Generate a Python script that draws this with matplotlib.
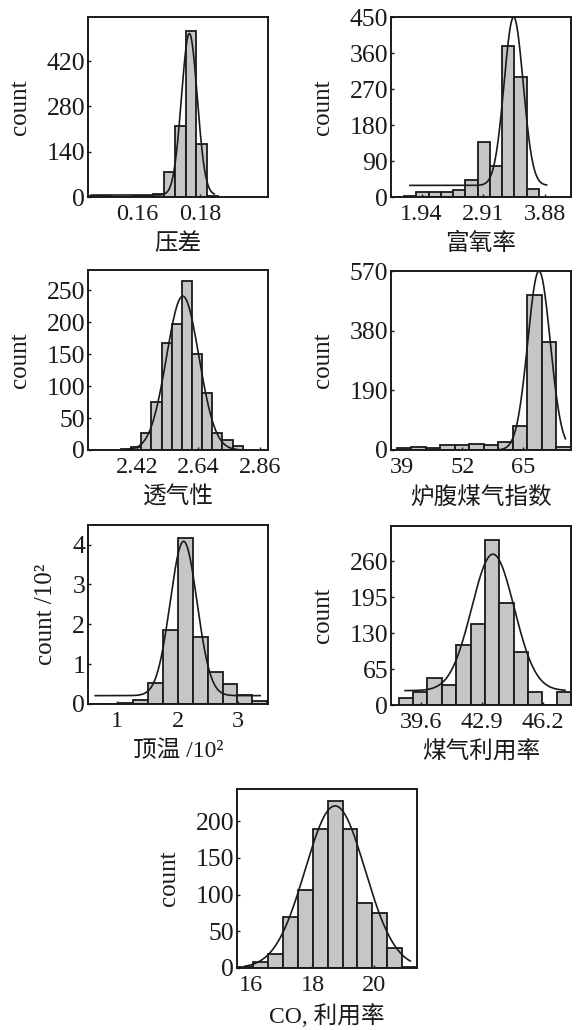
import numpy as np
import matplotlib
matplotlib.use("Agg")
import matplotlib.pyplot as plt

plt.rcParams['font.family'] = ['Liberation Serif', 'Noto Sans CJK SC']

# 压差
p1_start, p1_width = 0.1448, 0.0034
p1_counts = [4, 3, 0, 1, 3, 4, 9, 77, 219, 514, 165, 3]
p1_fit = (0.1455, 0.1845, 0.1766, 0.0025, 505, 6)
# 富氧率
p2_start, p2_width = 1.475, 0.1925
p2_counts = [0, 3, 12, 12, 12, 17, 42, 137, 78, 378, 300, 21]
p2_fit = (1.757, 3.907, 3.388, 0.15, 450, 29)
# 透气性
p3_start, p3_width = 2.363, 0.0363
p3_counts = [2, 4, 26, 75, 167, 198, 265, 150, 89, 26, 15, 7]
p3_fit = (2.37, 2.78, 2.584, 0.058, 241, 0)
# 炉腹煤气指数
p4_start, p4_width = 37.98, 3.1
p4_counts = [5, 8, 7, 15, 15, 20, 15, 25, 76, 492, 344, 10]
p4_fit = (37.5, 74.0, 68.35, 2.4, 570, 0)
# 顶温
p5_start, p5_width = 0.526, 0.2467
p5_counts = [0.01, 0.01, 0.02, 0.10, 0.53, 1.86, 4.17, 1.69, 0.81, 0.50, 0.23, 0.07]
p5_fit = (0.635, 3.37, 2.10, 0.223, 4.08, 0.21)
# 煤气利用率
p6_start, p6_width = 38.39, 0.7756
p6_counts = [12, 24, 49, 37, 109, 146, 299, 184, 96, 24, 0, 24]
p6_fit = (38.73, 47.37, 43.48, 1.15, 273, 26)
# CO利用率
p7_start, p7_width = 15.56, 0.489
p7_counts = [2, 8, 19, 70, 106, 189, 228, 189, 89, 75, 27, 2]
p7_fit = (15.78, 21.2, 18.74, 0.98, 221, 0)

xlabels = ['压差', '富氧率', '透气性', '炉腹煤气指数', '顶温 /10²', '煤气利用率', 'CO, 利用率']
ylabels = ['count', 'count', 'count', 'count', 'count /10²', 'count', 'count']
xlims = [(0.1445, 0.2015), (1.46, 4.29), (2.245, 2.889), (36.74, 75.19),
         (0.514, 3.50), (37.97, 47.70), (15.53, 21.42)]
ylims = [556, 450, 282, 570, 4.49, 324, 244]
xticks = [[0.16, 0.18], [1.94, 2.91, 3.88], [2.42, 2.64, 2.86], [39, 52, 65],
          [1, 2, 3], [39.6, 42.9, 46.2], [16, 18, 20]]
xticklabels = [['0.16', '0.18'], ['1.94', '2.91', '3.88'], ['2.42', '2.64', '2.86'],
               ['39', '52', '65'], ['1', '2', '3'], ['39.6', '42.9', '46.2'],
               ['16', '18', '20']]
yticks = [[0, 140, 280, 420], [0, 90, 180, 270, 360, 450], [0, 50, 100, 150, 200, 250],
          [0, 190, 380, 570], [0, 1, 2, 3, 4], [0, 65, 130, 195, 260],
          [0, 50, 100, 150, 200]]

starts = [p1_start, p2_start, p3_start, p4_start, p5_start, p6_start, p7_start]
widths = [p1_width, p2_width, p3_width, p4_width, p5_width, p6_width, p7_width]
counts = [p1_counts, p2_counts, p3_counts, p4_counts, p5_counts, p6_counts, p7_counts]
fits = [p1_fit, p2_fit, p3_fit, p4_fit, p5_fit, p6_fit, p7_fit]

W, H = 576, 1030
# axes boxes in pixels: left, top, width, height
boxes = [(88, 17, 180, 180), (391, 17, 180, 180),
         (88, 270, 180, 180), (391, 271, 180, 179),
         (88, 525, 180, 179), (391, 526, 180, 179),
         (237, 789, 180, 179)]

fig = plt.figure(figsize=(W / 100, H / 100), dpi=100)

for i in range(7):
    l, t, w, h = boxes[i]
    ax = fig.add_axes([l / W, (H - t - h) / H, w / W, h / H])
    c = np.array(counts[i])
    edges = starts[i] + widths[i] * np.arange(len(c))
    ax.bar(edges, c, width=widths[i], align='edge', color='#c6c6c6',
           edgecolor='#1a1a1a', linewidth=1.3)
    lo, hi, mu, sd, peak, base = fits[i]
    xs = np.linspace(lo, hi, 300)
    ax.plot(xs, base + (peak - base) * np.exp(-0.5 * ((xs - mu) / sd) ** 2),
            color='#1a1a1a', lw=1.2)
    ax.set_xlim(*xlims[i])
    ax.set_ylim(0, ylims[i])
    ax.set_xticks(xticks[i])
    ax.set_xticklabels(xticklabels[i])
    ax.set_yticks(yticks[i])
    ax.tick_params(direction='in', length=2, width=1, colors='#1a1a1a')
    ax.tick_params(axis='x', labelsize=17.5, pad=5)
    ax.tick_params(axis='y', labelsize=18.5, pad=2)
    for s in ax.spines.values():
        s.set_linewidth(1.4)
        s.set_color('#1a1a1a')
    ax.set_xlabel(xlabels[i], fontsize=17, labelpad=6, color='#1a1a1a')
    ax.set_ylabel(ylabels[i], fontsize=18, labelpad=11, color='#1a1a1a')

fig.savefig('out.png', dpi=100)
